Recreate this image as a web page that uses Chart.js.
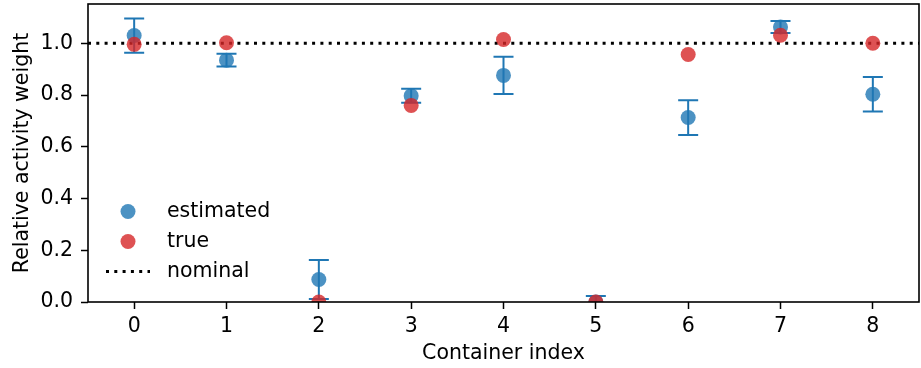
<!DOCTYPE html>
<html><head><meta charset="utf-8">
<script src="https://cdn.jsdelivr.net/npm/chart.js@4/dist/chart.umd.min.js"></script>
<style>html,body{margin:0;padding:0;background:#fff}#wrap{width:921px;height:368px}</style>
</head><body><div id="wrap"><canvas id="c" width="921" height="368"></canvas></div>
<script>
const containers = [0, 1, 2, 3, 4, 5, 6, 7, 8];
const estimated = [1.030, 0.935, 0.087, 0.797, 0.876, 0.000, 0.713, 1.063, 0.803];
const estimatedErr = [0.066, 0.025, 0.075, 0.027, 0.072, 0.023, 0.067, 0.023, 0.067];
const trueValues = [0.996, 1.002, 0.000, 0.760, 1.015, 0.000, 0.957, 1.031, 1.000];
const nominal = 1.0;
const yTicks = [0.0, 0.2, 0.4, 0.6, 0.8, 1.0];
const seriesLabels = ['estimated', 'true', 'nominal'];
const xTitle = 'Container index';
const yTitle = 'Relative activity weight';

const F = "'DejaVu Sans', sans-serif";
const FS = 20.5;
const BLUE = 'rgba(31,119,180,0.8)';
const RED = 'rgba(214,39,40,0.8)';
const ERR = '#1f77b4';

const zeroPad = s => { s.paddingTop = 0; s.paddingBottom = 0; s.paddingLeft = 0; s.paddingRight = 0; };

const custom = {
  id: 'custom',
  beforeDatasetsDraw(chart) {
    const {ctx, chartArea: a, scales: {x, y}} = chart;
    ctx.save();
    ctx.beginPath(); ctx.rect(a.left, a.top, a.right - a.left, a.bottom - a.top); ctx.clip();
    ctx.strokeStyle = ERR; ctx.lineWidth = 2; ctx.lineCap = 'butt';
    containers.forEach((c, i) => {
      const px = x.getPixelForValue(c);
      const t = y.getPixelForValue(estimated[i] + estimatedErr[i]);
      const b = y.getPixelForValue(estimated[i] - estimatedErr[i]);
      ctx.beginPath();
      ctx.moveTo(px, t); ctx.lineTo(px, b);
      ctx.moveTo(px - 10, t); ctx.lineTo(px + 10, t);
      ctx.moveTo(px - 10, b); ctx.lineTo(px + 10, b);
      ctx.stroke();
    });
    ctx.restore();
  },
  afterDatasetsDraw(chart) {
    const {ctx, chartArea: a} = chart;
    ctx.save();
    ctx.strokeStyle = '#000'; ctx.lineWidth = 1.6;
    ctx.strokeRect(a.left, a.top, a.right - a.left, a.bottom - a.top);
    const mx = 128, tx = 167, rows = [211.5, 241.5, 271.5];
    ctx.font = FS + 'px ' + F; ctx.textBaseline = 'alphabetic'; ctx.textAlign = 'left';
    ctx.fillStyle = BLUE; ctx.beginPath(); ctx.arc(mx, rows[0], 7.5, 0, Math.PI * 2); ctx.fill();
    ctx.fillStyle = RED; ctx.beginPath(); ctx.arc(mx, rows[1], 7.5, 0, Math.PI * 2); ctx.fill();
    ctx.strokeStyle = '#000'; ctx.lineWidth = 3; ctx.setLineDash([3, 5.3]);
    ctx.beginPath(); ctx.moveTo(106, rows[2]); ctx.lineTo(150, rows[2]); ctx.stroke();
    ctx.setLineDash([]);
    ctx.fillStyle = '#000';
    seriesLabels.forEach((l, i) => ctx.fillText(l, tx, rows[i] + 5.5));
    ctx.restore();
  }
};

new Chart(document.getElementById('c'), {
  type: 'scatter',
  data: {
    datasets: [
      {label: seriesLabels[1], data: containers.map((c, i) => ({x: c, y: trueValues[i]})),
        backgroundColor: RED, borderWidth: 0, pointRadius: 7.5, order: 0, clip: 0},
      {label: seriesLabels[0], data: containers.map((c, i) => ({x: c, y: estimated[i]})),
        backgroundColor: BLUE, borderWidth: 0, pointRadius: 7.5, order: 1, clip: 0},
      {label: seriesLabels[2], data: [{x: -0.5, y: nominal}, {x: 8.5, y: nominal}],
        showLine: true, borderColor: '#000', borderWidth: 3, borderDash: [3, 5.3], borderCapStyle: 'butt',
        pointRadius: 0, fill: false, order: 2, clip: 0}
    ]
  },
  options: {
    responsive: false, animation: false, events: [],
    layout: {autoPadding: false, padding: {top: 4, right: 2, left: 0, bottom: 0}},
    plugins: {legend: {display: false}, tooltip: {enabled: false}},
    scales: {
      x: {
        type: 'linear', min: -0.5, max: 8.5,
        afterBuildTicks: s => { s.ticks = containers.map(v => ({value: v})); },
        afterFit: s => { s.height = 66; zeroPad(s); },
        ticks: {color: '#000', font: {family: F, size: FS}, padding: 5, maxRotation: 0, autoSkip: false,
          callback: v => String(v)},
        grid: {drawOnChartArea: false, drawTicks: true, tickLength: 7, tickColor: '#000', tickWidth: 1.5},
        border: {display: false},
        title: {display: true, text: xTitle, color: '#000', font: {family: F, size: FS}, padding: {top: 0, bottom: 2}}
      },
      y: {
        type: 'linear', min: 0, max: 1.152,
        afterBuildTicks: s => { s.ticks = yTicks.map(v => ({value: v})); },
        afterFit: s => { s.width = 88; zeroPad(s); },
        ticks: {color: '#000', font: {family: F, size: FS}, padding: 8, autoSkip: false,
          callback: v => Number(v).toFixed(1)},
        grid: {drawOnChartArea: false, drawTicks: true, tickLength: 7, tickColor: '#000', tickWidth: 1.5},
        border: {display: false},
        title: {display: true, text: yTitle, color: '#000', font: {family: F, size: FS}, padding: {top: 10, bottom: 0}}
      }
    }
  },
  plugins: [custom]
});
</script>
</body></html>
